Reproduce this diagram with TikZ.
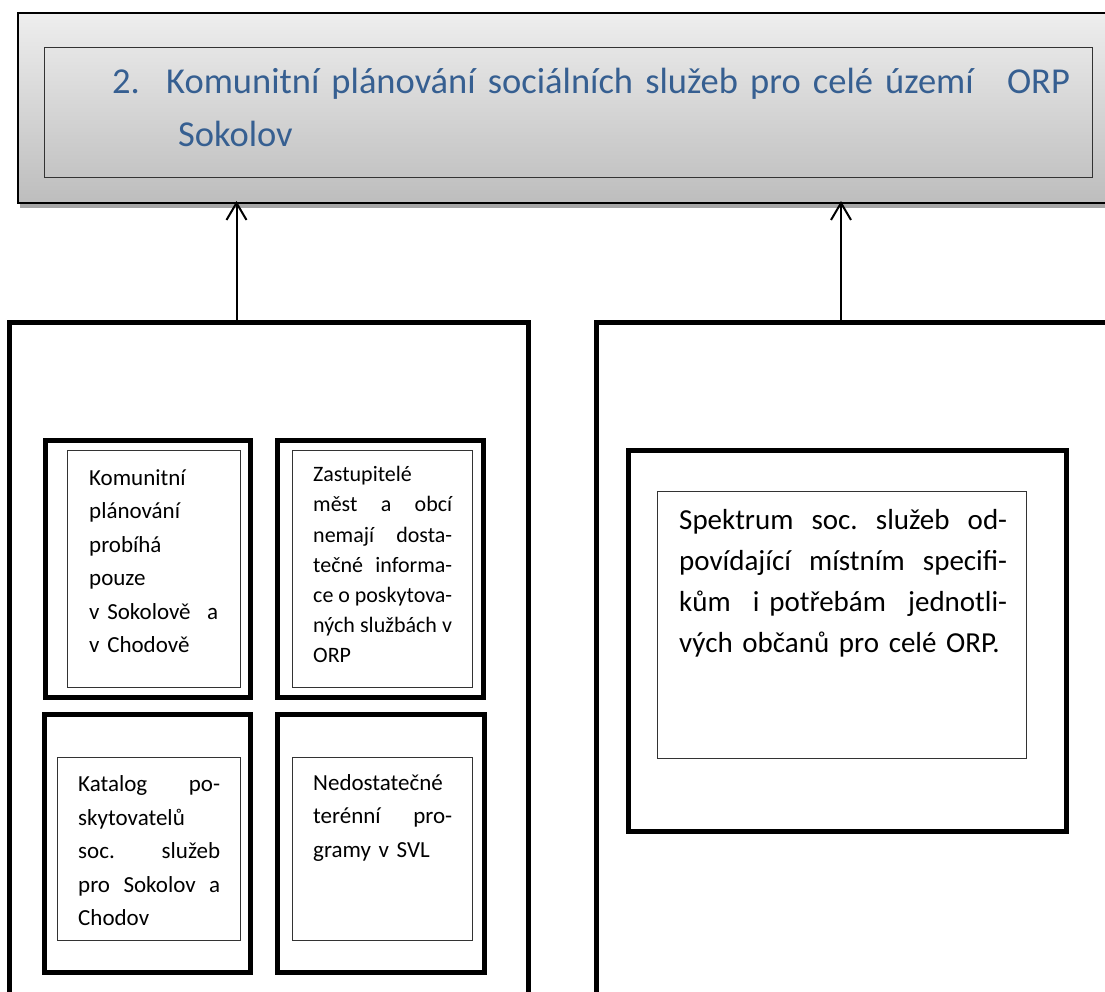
\documentclass[tikz,border=0pt]{standalone}
\usepackage{fontspec}
\setmainfont{Carlito}
\usetikzlibrary{arrows.meta,fit,shadows}
\definecolor{SKBlue}{HTML}{365F91}
\definecolor{SKGrayTop}{HTML}{EEEEEE}
\definecolor{SKGrayBottom}{HTML}{BDBDBD}
\definecolor{SKShadow}{HTML}{A6A6A6}
\definecolor{SKFrame}{HTML}{333333}
\newcommand{\skTitleFont}{\fontsize{36.5pt}{53.4pt}\selectfont}
\newcommand{\skBoxFont}{\fontsize{23pt}{33.5pt}\selectfont}
\newcommand{\skNarrowFont}{\fontsize{22pt}{30.2pt}\selectfont}
\newcommand{\skWideFont}{\fontsize{29pt}{41.1pt}\selectfont}
\tikzset{
  thickbox/.style={draw=black,line width=5pt,inner sep=0pt},
  thinbox/.style={draw=SKFrame,line width=1pt,inner sep=0pt},
  boxtext/.style={anchor=base west,inner sep=0pt,align=left,font=\skBoxFont},
  conn/.style={line width=2pt,-{Straight Barb[length=17pt,width=20pt,line width=2pt]}}
}
\begin{document}
\begin{tikzpicture}[x=1pt,y=-1pt]
\path[use as bounding box] (0,0) rectangle (1105,991);
\clip (0,0) rectangle (1105,991);
\node[fit={(18,12.5) (1130,203)},inner sep=0pt,draw=black,line width=2pt,top color=SKGrayTop,bottom color=SKGrayBottom,drop shadow={shadow xshift=2pt,shadow yshift=-5pt,fill=SKShadow,opacity=1}] (title) {};
\node[thinbox,fit={(44,47.7) (1092,177.7)}] (titleframe) {};
\node[boxtext,font=\skTitleFont,text=SKBlue,text width=958pt] (titletext) at (112,93.3)
  {\makebox[54pt][l]{2.}Komunitní plánování sociálních služeb pro celé území\hfill ORP\\
   \hspace*{66pt}Sokolov};
\node[thickbox,fit={(9,322) (528,1020)}] (leftpanel) {};
\node[thickbox,fit={(596.5,322) (1130,1020)}] (rightpanel) {};
\node[thickbox,fit={(45,440) (250,697.5)}] (cellplan) {};
\node[thinbox,fit={(67.7,450) (240.7,687.3)}] (frameplan) {};
\node[boxtext,text width=129pt] (textplan) at (89,485)
  {Komunitní\\ plánování\\ probíhá\\ pouze\\ v Sokolově\hfill a\\ v Chodově};
\node[thickbox,fit={(277,440) (483.7,697.5)}] (cellreps) {};
\node[thinbox,fit={(292,450) (472.7,687.3)}] (framereps) {};
\node[boxtext,font=\skNarrowFont,text width=139pt] (textreps) at (313,481.7)
  {Zastupitelé\\ měst\hfill a\hfill obcí\\ nemají\hfill dosta-\\ tečné\hfill informa-\\ ce\hfill o\hfill poskytova-\\ ných\hfill službách\hfill v\\ ORP};
\node[thickbox,fit={(44,714) (250,972)}] (cellcatalog) {};
\node[thinbox,fit={(57.7,757.7) (240.7,940.3)}] (framecatalog) {};
\node[boxtext,text width=142pt] (textcatalog) at (78,791.7)
  {Katalog\hfill po-\\ skytovatelů\\ soc.\hfill služeb\\ pro\hfill Sokolov\hfill a\\ Chodov};
\node[thickbox,fit={(277,714) (484,972)}] (cellfield) {};
\node[thinbox,fit={(292,757.7) (472.7,940.3)}] (framefield) {};
\node[boxtext,text width=139pt] (textfield) at (313,790)
  {Nedostatečné\\ terénní\hfill pro-\\ gramy v SVL};
\node[thickbox,fit={(628.5,450) (1066.8,831.8)}] (cellspectrum) {};
\node[thinbox,fit={(657.7,491.7) (1026.7,758.3)}] (framespectrum) {};
\node[boxtext,font=\skWideFont,text width=328pt] (textspectrum) at (679,529.3)
  {Spektrum\hfill soc.\hfill služeb\hfill od-\\ povídající\hfill místním\hfill specifi-\\ kům\hfill i~potřebám\hfill jednotli-\\ vých občanů pro celé ORP.};
\coordinate (lstem) at (236.5,319.5);
\coordinate (rstem) at (841,319.5);
\draw[conn,shorten >=-3pt] (lstem) -- (lstem |- title.south);
\draw[conn,shorten >=-3pt] (rstem) -- (rstem |- title.south);
\end{tikzpicture}
\end{document}
